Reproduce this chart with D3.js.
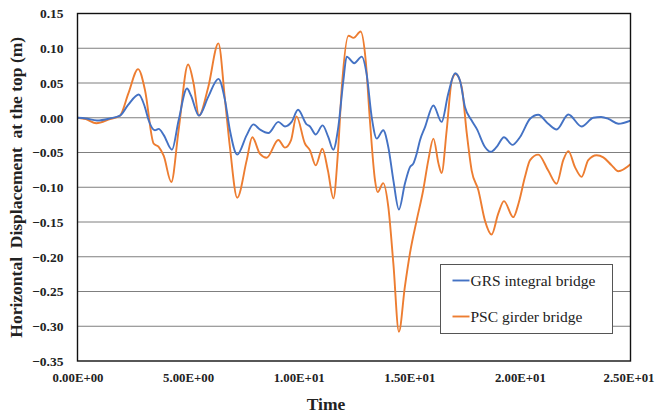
<!DOCTYPE html>
<html>
<head>
<meta charset="utf-8">
<script src="https://cdn.jsdelivr.net/npm/d3@7/dist/d3.min.js"></script>
<style>
  html, body { margin: 0; padding: 0; background: #fff; }
  svg { display: block; }
  text { font-family: "Liberation Serif", "Times New Roman", serif; }
</style>
</head>
<body>
<svg id="chart" width="656" height="414"></svg>
<script>
// Time (s) and horizontal displacement at the top (m) for each bridge type
const grsTime = [0, 0.38, 0.88, 1.47, 1.92, 2.28, 2.77, 3.05, 3.22, 3.5, 3.67, 3.9, 4.27, 4.57, 4.95, 5.13, 5.49, 5.91, 6.37, 6.67, 6.89, 7.22, 7.65, 7.95, 8.25, 8.63, 9.08, 9.38, 9.68, 9.97, 10.36, 10.51, 10.77, 11.08, 11.34, 11.56, 11.79, 12.02, 12.17, 12.51, 12.85, 13.07, 13.3, 13.53, 13.82, 14.05, 14.28, 14.53, 14.8, 15.03, 15.18, 15.33, 15.48, 15.71, 16.09, 16.46, 16.76, 17.07, 17.29, 17.52, 17.82, 18.05, 18.42, 18.69, 18.95, 19.28, 19.66, 20.0, 20.46, 20.83, 21.28, 21.66, 22.19, 22.79, 23.32, 23.67, 24.0, 24.45, 25.0];
const grsDisp = [0, -0.001, -0.004, -0.001, 0.003, 0.018, 0.0335, 0.015, -0.004, -0.018, -0.016, -0.025, -0.046, -0.004, 0.042, 0.032, 0.003, 0.03, 0.056, 0.025, -0.018, -0.053, -0.025, -0.0096, -0.017, -0.022, -0.006, -0.0125, -0.006, 0.0115, -0.0096, -0.0125, -0.024, -0.011, -0.028, -0.046, -0.0135, 0.0536, 0.088, 0.0785, 0.088, 0.063, 0.001, -0.03, -0.018, -0.042, -0.09, -0.132, -0.095, -0.071, -0.066, -0.052, -0.0326, -0.0135, 0.0177, -0.006, 0.0345, 0.064, 0.0536, 0.0152, -0.004, -0.016, -0.042, -0.049, -0.042, -0.028, -0.039, -0.028, -0.0015, 0.0043, -0.0086, -0.0168, 0.0047, -0.0125, 0, 0.001, -0.0015, -0.0086, -0.004];

const pscTime = [0, 0.38, 0.85, 1.47, 1.92, 2.3, 2.74, 3.05, 3.44, 3.67, 3.9, 4.24, 4.57, 5.0, 5.25, 5.49, 5.91, 6.37, 6.67, 6.89, 7.22, 7.65, 7.9, 8.25, 8.55, 9.08, 9.38, 9.65, 9.9, 10.28, 10.51, 10.77, 11.07, 11.32, 11.57, 11.77, 11.95, 12.25, 12.48, 12.8, 13.03, 13.22, 13.45, 13.57, 13.82, 14.05, 14.28, 14.53, 14.8, 15.03, 15.33, 15.63, 15.86, 16.09, 16.32, 16.46, 16.69, 16.92, 17.1, 17.37, 17.6, 17.82, 18.12, 18.42, 18.72, 19.02, 19.28, 19.7, 19.95, 20.23, 20.46, 20.83, 21.28, 21.66, 21.96, 22.19, 22.49, 22.79, 23.09, 23.47, 23.77, 24.15, 24.45, 25.0];
const pscDisp = [0, -0.002, -0.008, -0.002, 0.003, 0.035, 0.07, 0.04, -0.037, -0.042, -0.055, -0.0925, -0.018, 0.0766, 0.049, 0.003, 0.044, 0.107, 0.025, -0.042, -0.115, -0.061, -0.028, -0.052, -0.0575, -0.032, -0.043, -0.0326, 0.002, -0.037, -0.047, -0.0685, -0.0446, -0.076, -0.116, -0.052, 0.044, 0.118, 0.115, 0.124, 0.082, -0.004, -0.09, -0.107, -0.094, -0.128, -0.21, -0.308, -0.243, -0.195, -0.148, -0.104, -0.061, -0.03, -0.066, -0.0795, -0.018, 0.0536, 0.063, 0.044, -0.023, -0.076, -0.104, -0.148, -0.168, -0.138, -0.12, -0.143, -0.122, -0.085, -0.061, -0.053, -0.076, -0.095, -0.061, -0.048, -0.071, -0.085, -0.061, -0.054, -0.057, -0.0685, -0.077, -0.067];

const seriesNames = ["GRS integral bridge", "PSC girder bridge"];
const seriesColors = ["#4472C4", "#ED7D31"];

const xTicks = [0, 5, 10, 15, 20, 25];
const yTicks = [0.15, 0.10, 0.05, 0.00, -0.05, -0.10, -0.15, -0.20, -0.25, -0.30, -0.35];

const svg = d3.select("#chart");
const plot = { left: 77.5, right: 630.5, top: 13.5, bottom: 361 };

const x = d3.scaleLinear().domain([0, 25]).range([plot.left, plot.right]);
const y = d3.scaleLinear().domain([-0.35, 0.15]).range([plot.bottom, plot.top]);

// horizontal gridlines
svg.append("g")
  .selectAll("line")
  .data(yTicks.filter(v => v > -0.35 && v < 0.15))
  .join("line")
  .attr("x1", plot.left).attr("x2", plot.right)
  .attr("y1", d => y(d)).attr("y2", d => y(d))
  .attr("stroke", "#7f7f7f").attr("stroke-width", 1);

const labelStyle = (sel, size) => sel
  .style("font-family", "'Liberation Serif', 'Times New Roman', serif")
  .style("font-weight", "bold").style("font-size", size + "px").attr("fill", "#222");

// y axis labels
const yAxis = d3.axisLeft(y).tickValues(yTicks).tickFormat(d3.format(".2f")).tickSize(0).tickPadding(14);
const gy = svg.append("g").attr("transform", `translate(${plot.left},0)`).call(yAxis);
gy.select(".domain").remove();
gy.selectAll("text").call(labelStyle, 13.5);

// x axis labels in Excel-style scientific notation
const fmtSci = d => {
  const e = d === 0 ? 0 : Math.floor(Math.log10(Math.abs(d)));
  const m = d / Math.pow(10, e);
  return m.toFixed(2) + "E" + (e < 0 ? "-" : "+") + String(Math.abs(e)).padStart(2, "0");
};
const xAxis = d3.axisBottom(x).tickValues(xTicks).tickFormat(fmtSci).tickSize(0).tickPadding(12);
const gx = svg.append("g").attr("transform", `translate(0,${plot.bottom})`).call(xAxis);
gx.select(".domain").remove();
gx.selectAll("text").call(labelStyle, 12.8);
// keep the last label inside the canvas edge
gx.selectAll(".tick:last-of-type text").attr("dx", -2);

// data lines
const line = d3.line().x(d => x(d[0])).y(d => y(d[1])).curve(d3.curveMonotoneX);
const seriesData = [
  d3.zip(grsTime, grsDisp),
  d3.zip(pscTime, pscDisp)
];
svg.append("path").datum(seriesData[1])
  .attr("d", line).attr("fill", "none")
  .attr("stroke", seriesColors[1]).attr("stroke-width", 1.9).attr("stroke-linejoin", "round");
svg.append("path").datum(seriesData[0])
  .attr("d", line).attr("fill", "none")
  .attr("stroke", seriesColors[0]).attr("stroke-width", 1.9).attr("stroke-linejoin", "round");

// plot frame
svg.append("rect")
  .attr("x", plot.left).attr("y", plot.top)
  .attr("width", plot.right - plot.left).attr("height", plot.bottom - plot.top)
  .attr("fill", "none").attr("stroke", "#111").attr("stroke-width", 1.4);

// legend
const lg = svg.append("g").attr("transform", "translate(440.5,264.5)");
lg.append("rect").attr("width", 172).attr("height", 69)
  .attr("fill", "#fff").attr("stroke", "#555").attr("stroke-width", 1);
seriesNames.forEach((name, i) => {
  const ly = 16 + i * 36;
  lg.append("line").attr("x1", 12).attr("x2", 29).attr("y1", ly).attr("y2", ly)
    .attr("stroke", seriesColors[i]).attr("stroke-width", 1.9);
  lg.append("text").attr("x", 30).attr("y", ly + 5)
    .style("font-size", "15.5px").attr("fill", "#222").text(name);
});

// axis titles
svg.append("text")
  .attr("x", 326).attr("y", 410)
  .attr("text-anchor", "middle")
  .style("font-weight", "bold").style("font-size", "17.5px")
  .attr("fill", "#222").text("Time");

svg.append("text")
  .attr("transform", `translate(22,${(plot.top + plot.bottom) / 2}) rotate(-90)`)
  .attr("text-anchor", "middle")
  .style("font-weight", "bold").style("font-size", "17.5px").style("white-space", "pre")
  .attr("fill", "#222")
  .text("Horizontal  Displacement  at the top (m)");
</script>
</body>
</html>
